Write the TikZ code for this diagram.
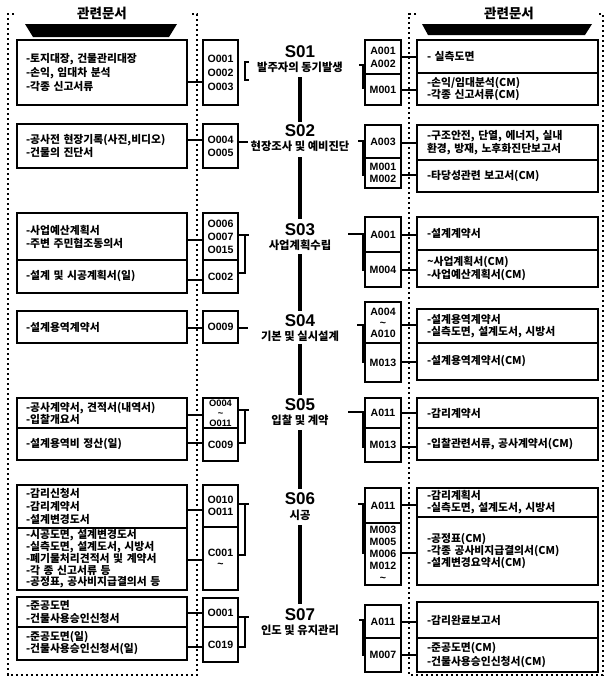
\documentclass[tikz,border=0pt]{standalone}
\usepackage{fontspec}
\setmainfont{Liberation Sans}
\newfontfamily\kr{Noto Sans CJK KR}
\newcommand\mybox[7]{\node[#1, anchor=north west, minimum width={#5pt-#3pt}, minimum height={#6pt-#4pt}] (#2) at (#3,#4) {#7};}
\newcommand\dsz[1]{\kr\bfseries\fontsize{10.8}{#1}\selectfont}
\newcommand\csz[1]{\bfseries\fontsize{10.6}{#1}\selectfont}
\tikzset{
 bd/.style={draw, line width=1.2pt, inner sep=0pt, outer sep=0pt},
 ldoc/.style={bd, text width=152pt, align=left, font=\dsz{13}},
 rdoc/.style={bd, text width=161pt, align=left, font=\dsz{13}},
 code/.style={bd, align=center, font=\csz{13}},
 conn/.style={line width=1.2pt},
 spine/.style={line width=4pt},
 stitle/.style={inner sep=0pt, font=\bfseries\fontsize{17}{17}\selectfont},
 ssub/.style={inner sep=0pt, font=\kr\bfseries\fontsize{11.3}{12}\selectfont},
 head/.style={inner sep=0pt, font=\kr\bfseries\fontsize{13.5}{14}\selectfont},
 dots/.style={line width=2.4pt, dash pattern=on 2.4pt off 2.6pt},
}
\begin{document}
\begin{tikzpicture}[x=1pt,y=-1pt]
\useasboundingbox (0,0) rectangle (605,686);
\fill[white] (0,0) rectangle (605,686);
% headers
\node[head] (H1) at (102,13) {관련문서};
\node[head] (H2) at (509,13) {관련문서};
\fill (25,24) -- (177,24) -- (169,37) -- (33,37) -- cycle;
\fill (422,24) -- (592,24) -- (585,35) -- (428,35) -- cycle;
\draw[dots] (14,14) -- (8,14) -- (8,675) -- (197,675) -- (197,14) -- (191,14);
\draw[dots] (416,14) -- (409,14) -- (409,675) -- (603,675) -- (603,14) -- (597,14);
% stage titles
\node[stitle] (S1) at (300,52) {S01};
\node[ssub] (S1s) at (300,67) {발주자의 동기발생};
\node[stitle] (S2) at (300,131) {S02};
\node[ssub] (S2s) at (300,146) {현장조사 및 예비진단};
\node[stitle] (S3) at (300,230) {S03};
\node[ssub] (S3s) at (300,245) {사업계획수립};
\node[stitle] (S4) at (300,321) {S04};
\node[ssub] (S4s) at (300,336) {기본 및 실시설계};
\node[stitle] (S5) at (300,405) {S05};
\node[ssub] (S5s) at (300,420) {입찰 및 계약};
\node[stitle] (S6) at (300,499) {S06};
\node[ssub] (S6s) at (300,515) {시공};
\node[stitle] (S7) at (300,615) {S07};
\node[ssub] (S7s) at (300,630) {인도 및 유지관리};
% spine
\draw[spine] (S1s |- 0,77) -- (S2 |- 0,122);
\draw[spine] (S2s |- 0,157) -- (S3 |- 0,219);
\draw[spine] (S3s |- 0,254) -- (S4 |- 0,311);
\draw[spine] (S4s |- 0,344) -- (S5 |- 0,395);
\draw[spine] (S5s |- 0,430) -- (S6 |- 0,489);
\draw[spine] (S6s |- 0,525) -- (S7 |- 0,604);
% ---------------- LEFT ----------------
% S01
\mybox{ldoc,font=\dsz{14}}{L1}{17}{40}{187}{105}{-토지대장, 건물관리대장\\-손익, 임대차 분석\\-각종 신고서류}
\mybox{code,font=\csz{14}}{LC1}{203}{40}{238}{105}{O001\\O002\\O003}
\draw[conn] (L1.east |- 0,82) -- (LC1.west |- 0,82);
\draw[conn] (249,62) -- (245,62) -- (245,80) -- (249,80);
% S02
\mybox{ldoc}{L2}{17}{124}{187}{168}{-공사전 현장기록(사진,비디오)\\-건물의 진단서}
\mybox{code}{LC2}{203}{124}{238}{168}{O004\\O005}
\draw[conn] (L2.east |- 0,140) -- (LC2.west |- 0,140);
\draw[conn] (LC2.east |- 0,142) -- (248,142);
% S03
\mybox{ldoc}{L3a}{17}{213}{187}{260}{-사업예산계획서\\-주변 주민협조동의서}
\mybox{ldoc}{L3b}{17}{260}{187}{293}{-설계 및 시공계획서(일)}
\mybox{code}{LC3a}{203}{213}{238}{260}{O006\\O007\\O015}
\mybox{code}{LC3b}{203}{260}{238}{293}{C002}
\draw[conn] (L3a.east |- 0,240) -- (LC3a.west |- 0,240);
\draw[conn] (L3b.east |- 0,280) -- (LC3b.west |- 0,280);
\draw[conn] (LC3a.east |- 0,235) -- (249,235);
\draw[conn] (245,235) -- (245,273) -- (LC3b.east |- 0,273);
% S04
\mybox{ldoc}{L4}{17}{311}{187}{343}{-설계용역계약서}
\mybox{code}{LC4}{203}{311}{238}{343}{O009}
\draw[conn] (L4.east |- 0,328) -- (LC4.west |- 0,328);
\draw[conn] (LC4.east |- 0,328) -- (248,328);
% S05
\mybox{ldoc,font=\dsz{12}}{L5a}{17}{398}{187}{428}{-공사계약서, 견적서(내역서)\\-입찰개요서}
\mybox{ldoc}{L5b}{17}{428}{187}{460}{-설계용역비 정산(일)}
\mybox{code,font=\bfseries\fontsize{9.3}{10}\selectfont}{LC5a}{203}{398}{238}{428}{O004\\\textasciitilde\\O011}
\mybox{code}{LC5b}{203}{428}{238}{461}{C009}
\draw[conn] (L5a.east |- 0,415) -- (LC5a.west |- 0,415);
\draw[conn] (L5b.east |- 0,443) -- (LC5b.west |- 0,443);
\draw[conn] (LC5a.east |- 0,410) -- (249,410);
\draw[conn] (245,410) -- (245,443) -- (LC5b.east |- 0,443);
% S06
\mybox{ldoc}{L6a}{17}{485}{187}{528}{-감리신청서\\-감리계약서\\-설계변경도서}
\mybox{ldoc,font=\dsz{11.7}}{L6b}{17}{528}{187}{590}{-시공도면, 설계변경도서\\-실측도면, 설계도서, 시방서\\-폐기물처리견적서 및 계약서\\-각 종 신고서류 등\\-공정표, 공사비지급결의서 등}
\mybox{code,font=\csz{12}}{LC6a}{203}{485}{238}{527}{O010\\O011}
\mybox{code,font=\csz{10.5}}{LC6b}{203}{527}{238}{590}{C001\\\textasciitilde}
\draw[conn] (L6a.east |- 0,510) -- (LC6a.west |- 0,510);
\draw[conn] (L6b.east |- 0,560) -- (LC6b.west |- 0,560);
\draw[conn] (LC6a.east |- 0,504) -- (249,504);
\draw[conn] (245,504) -- (245,555) -- (LC6b.east |- 0,555);
% S07
\mybox{ldoc,font=\dsz{12.5}}{L7a}{17}{597}{187}{627}{-준공도면\\-건물사용승인신청서}
\mybox{ldoc,font=\dsz{12}}{L7b}{17}{627}{187}{660}{-준공도면(일)\\-건물사용승인신청서(일)}
\mybox{code}{LC7a}{203}{598}{238}{627}{O001}
\mybox{code}{LC7b}{203}{627}{238}{662}{C019}
\draw[conn] (L7a.east |- 0,613) -- (LC7a.west |- 0,613);
\draw[conn] (L7b.east |- 0,647) -- (LC7b.west |- 0,647);
\draw[conn] (LC7a.east |- 0,617) -- (249,617);
\draw[conn] (245,617) -- (245,647) -- (LC7b.east |- 0,647);
% ---------------- RIGHT ----------------
% S01
\mybox{code}{RC1a}{365}{40}{401}{74}{A001\\A002}
\mybox{code}{RC1b}{365}{74}{401}{105}{M001}
\mybox{rdoc}{R1a}{417}{40}{598}{73}{- 실측도면}
\mybox{rdoc,font=\dsz{12}}{R1b}{417}{73}{598}{105}{-손익/임대분석(CM)\\-각종 신고서류(CM)}
\draw[conn] (RC1a.east |- 0,57) -- (R1a.west |- 0,57);
\draw[conn] (RC1b.east |- 0,90) -- (R1b.west |- 0,90);
\draw[conn] (359,65) -- (363,65) -- (363,88) -- (RC1b.west |- 0,88);
% S02
\mybox{code}{RC2a}{365}{125}{401}{158}{A003}
\mybox{code,font=\csz{12}}{RC2b}{365}{158}{401}{188}{M001\\M002}
\mybox{rdoc}{R2a}{417}{125}{598}{160}{-구조안전, 단열, 에너지, 실내\\환경, 방재, 노후화진단보고서}
\mybox{rdoc}{R2b}{417}{160}{598}{192}{-타당성관련 보고서(CM)}
\draw[conn] (RC2a.east |- 0,143) -- (R2a.west |- 0,143);
\draw[conn] (RC2b.east |- 0,175) -- (R2b.west |- 0,175);
\draw[conn] (358,141) -- (363,141) -- (363,175) -- (RC2b.west |- 0,175);
% S03
\mybox{code}{RC3a}{365}{217}{401}{252}{A001}
\mybox{code}{RC3b}{365}{252}{401}{287}{M004}
\mybox{rdoc}{R3a}{417}{217}{598}{250}{-설계계약서}
\mybox{rdoc}{R3b}{417}{250}{598}{287}{\textasciitilde 사업계획서(CM)\\-사업예산계획서(CM)}
\draw[conn] (RC3a.east |- 0,235) -- (R3a.west |- 0,235);
\draw[conn] (RC3b.east |- 0,270) -- (R3b.west |- 0,270);
\draw[conn] (348,234) -- (RC3a.west |- 0,234);
\draw[conn] (363,234) -- (363,270) -- (RC3b.west |- 0,270);
% S04
\mybox{code,font=\csz{11}}{RC4a}{365}{302}{401}{343}{A004\\\textasciitilde\\A010}
\mybox{code}{RC4b}{365}{343}{401}{382}{M013}
\mybox{rdoc,font=\dsz{12}}{R4a}{417}{309}{598}{343}{-설계용역계약서\\-실측도면, 설계도서, 시방서}
\mybox{rdoc}{R4b}{417}{343}{598}{380}{-설계용역계약서(CM)}
\draw[conn] (RC4a.east |- 0,325) -- (R4a.west |- 0,325);
\draw[conn] (RC4b.east |- 0,362) -- (R4b.west |- 0,362);
\draw[conn] (357,325) -- (363,325) -- (363,362) -- (RC4b.west |- 0,362);
% S05
\mybox{code}{RC5a}{365}{398}{401}{428}{A011}
\mybox{code}{RC5b}{365}{428}{401}{462}{M013}
\mybox{rdoc}{R5a}{417}{398}{598}{428}{-감리계약서}
\mybox{rdoc}{R5b}{417}{428}{598}{460}{-입찰관련서류, 공사계약서(CM)}
\draw[conn] (RC5a.east |- 0,413) -- (R5a.west |- 0,413);
\draw[conn] (RC5b.east |- 0,447) -- (R5b.west |- 0,447);
\draw[conn] (348,412) -- (RC5a.west |- 0,412);
\draw[conn] (363,412) -- (363,447) -- (RC5b.west |- 0,447);
% S06
\mybox{code}{RC6a}{365}{488}{401}{523}{A011}
\mybox{code,font=\csz{12}}{RC6b}{365}{523}{401}{585}{M003\\M005\\M006\\M012\\\textasciitilde}
\mybox{rdoc,font=\dsz{12}}{R6a}{417}{488}{598}{517}{-감리계획서\\-실측도면, 설계도서, 시방서}
\mybox{rdoc,font=\dsz{12}}{R6b}{417}{517}{598}{585}{-공정표(CM)\\-각종 공사비지급결의서(CM)\\-설계변경요약서(CM)}
\draw[conn] (RC6a.east |- 0,505) -- (R6a.west |- 0,505);
\draw[conn] (RC6b.east |- 0,553) -- (R6b.west |- 0,553);
\draw[conn] (358,504) -- (RC6a.west |- 0,504);
\draw[conn] (363,504) -- (363,553) -- (RC6b.west |- 0,553);
% S07
\mybox{code}{RC7a}{365}{605}{401}{638}{A011}
\mybox{code}{RC7b}{365}{638}{401}{672}{M007}
\mybox{rdoc}{R7a}{417}{602}{598}{638}{-감리완료보고서}
\mybox{rdoc,font=\dsz{14}}{R7b}{417}{638}{598}{672}{-준공도면(CM)\\-건물사용승인신청서(CM)}
\draw[conn] (RC7a.east |- 0,622) -- (R7a.west |- 0,622);
\draw[conn] (RC7b.east |- 0,655) -- (R7b.west |- 0,655);
\draw[conn] (359,620) -- (RC7a.west |- 0,620);
\draw[conn] (363,620) -- (363,655) -- (RC7b.west |- 0,655);
\end{tikzpicture}
\end{document}
